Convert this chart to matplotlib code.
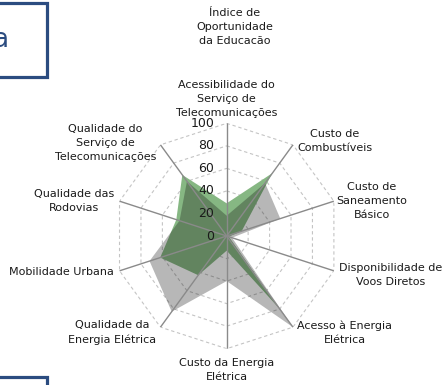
# radar chart: Índice de Oportunidade da Educação
import numpy as np
import matplotlib
matplotlib.use("Agg")
import matplotlib.pyplot as plt
from matplotlib.patches import Rectangle

plt.rcParams['font.family'] = ['DejaVu Sans']

categories = [
    "Acessibilidade do\nServiço de\nTelecomunicações",
    "Custo de\nCombustíveis",
    "Custo de\nSaneamento\nBásico",
    "Disponibilidade de\nVoos Diretos",
    "Acesso à Energia\nElétrica",
    "Custo da Energia\nElétrica",
    "Qualidade da\nEnergia Elétrica",
    "Mobilidade Urbana",
    "Qualidade das\nRodovias",
    "Qualidade do\nServiço de\nTelecomunicações",
]
serie_verde = [29, 69, 14, 2, 80, 13, 43, 62, 47, 67]
serie_cinza = [18, 58, 50, 5, 100, 40, 83, 72, 44, 60]
rings = [20, 40, 60, 80, 100]
tick_values = [0, 20, 40, 60, 80, 100]
title = "Índice de\nOportunidade\nda Educação"

W, H = 445, 385
fig = plt.figure(figsize=(W / 100, H / 100), dpi=100)

# center (226.7, 236) px, radius 112.7 px
cx, cy, R = 226.7, 236, 112.7
ax = fig.add_axes([(cx - R) / W, (H - cy - R) / H, 2 * R / W, 2 * R / H],
                  projection='polar')
ax.set_theta_zero_location('N')
ax.set_theta_direction(-1)
ax.set_ylim(0, 100)
ax.set_xticks([])
ax.set_yticks([])
ax.grid(False)
ax.spines['polar'].set_visible(False)
ax.patch.set_alpha(0)

n = len(categories)
ang = np.arange(n) * 2 * np.pi / n
ang_c = np.append(ang, ang[0])

# dashed decagon grid
for r in rings:
    ax.plot(ang_c, [r] * (n + 1), color='#c4c4c4', lw=0.8,
            linestyle=(0, (3, 2.5)), zorder=1)

# series: green below, dark translucent gray on top
ax.fill(ang_c, serie_verde + serie_verde[:1], color='#86b783', lw=0, zorder=2)
ax.fill(ang_c, serie_cinza + serie_cinza[:1], color='#0a0a0a', alpha=0.29,
        lw=0, zorder=3)

# spokes
for a in ang:
    ax.plot([a, a], [0, 100], color='#8a8a8a', lw=1.0, zorder=4)

# radial tick labels
for v in tick_values:
    ax.annotate(str(v), xy=(0, v), xytext=(-9, 0), textcoords='offset points',
                ha='right', va='center', fontsize=9, color='#1a1a1a',
                zorder=5, annotation_clip=False)

# category labels: (dx, dy) offsets in points, alignment
offsets = [(0, 4), (3, 3), (2, 0), (4, -3), (3, -4),
           (0, -7), (-3, -4), (-4, -1), (-4, 0), (-3, 1)]
halign = ['center', 'left', 'left', 'left', 'left',
          'center', 'right', 'right', 'right', 'right']
valign = ['bottom', 'center', 'center', 'center', 'center',
          'top', 'center', 'center', 'center', 'center']
for a, lab, off, ha, va in zip(ang, categories, offsets, halign, valign):
    ax.annotate(lab, xy=(a, 100), xytext=off, textcoords='offset points',
                ha=ha, va=va, multialignment='center', fontsize=8,
                color='#1a1a1a', linespacing=1.5, annotation_clip=False)

# title (bottom of last line is cut in the reference)
fig.text(235 / W, 1 - 8 / H, title, ha='center', va='top', fontsize=8,
         color='#1a1a1a', multialignment='center', linespacing=1.5)
fig.add_artist(Rectangle((0.3, 1 - 58 / H), 0.4, 14 / H,
                         transform=fig.transFigure, facecolor='white',
                         edgecolor='none', zorder=10))

# blue frames at the left edge
blue = '#2b4c80'
fig.add_artist(Rectangle((-20 / W, 1 - 77 / H), 67 / W, 74 / H,
                         transform=fig.transFigure, facecolor='none',
                         edgecolor=blue, lw=2.3, zorder=11))
fig.add_artist(Rectangle((-20 / W, -40 / H), 67 / W, 48 / H,
                         transform=fig.transFigure, facecolor='none',
                         edgecolor=blue, lw=2.3, zorder=11))
fig.text(9 / W, 1 - 40 / H, "a", ha='right', va='center', fontsize=19,
         color=blue)

fig.savefig("out.png", dpi=100)
